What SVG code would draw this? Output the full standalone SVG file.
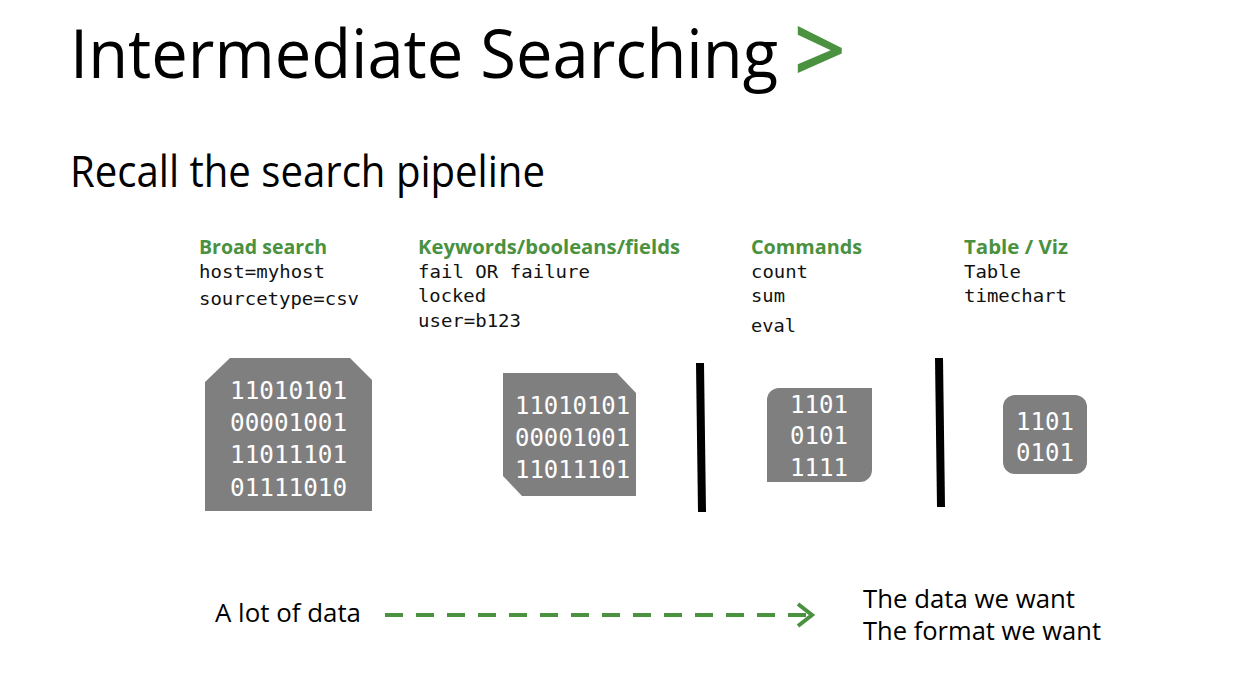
<svg xmlns="http://www.w3.org/2000/svg" width="1254" height="688" viewBox="0 0 1254 688">
  <style>
    .title { font-family: "Open Sans", "Noto Sans", sans-serif; fill: #000; }
    .head { font-family: "Open Sans", "Noto Sans", sans-serif; font-weight: bold; font-size: 19px; fill: #4a9140; }
    .code { font-family: "DejaVu Sans Mono", "Liberation Mono", monospace; font-size: 18px; fill: #111; }
    .bits { font-family: "DejaVu Sans Mono", "Liberation Mono", monospace; font-size: 24px; fill: #fff; }
    .block { fill: #7f7f7f; }
    .bar { fill: #000; }
    .plain { font-family: "Open Sans", "Noto Sans", sans-serif; font-size: 25px; fill: #000; }
    .flow { fill: none; stroke: #4a9140; stroke-width: 4; }
  </style>
  <rect width="1254" height="688" fill="#fff"/>

  <!-- heading -->
  <g id="heading">
    <text class="title" x="70" y="78" font-size="68" textLength="708" lengthAdjust="spacingAndGlyphs">Intermediate Searching</text>
    <text x="846" y="83" text-anchor="end" font-family="Open Sans, Noto Sans, sans-serif" font-size="92" font-weight="600" fill="#4a9140">&gt;</text>
    <text class="title" x="70" y="187" font-size="44" textLength="475" lengthAdjust="spacingAndGlyphs">Recall the search pipeline</text>
  </g>

  <!-- stage: broad search -->
  <g id="stage-broad">
    <text class="head" x="199" y="254" textLength="128" lengthAdjust="spacingAndGlyphs">Broad search</text>
    <text class="code" x="199" y="278" textLength="126" lengthAdjust="spacingAndGlyphs">host=myhost</text>
    <text class="code" x="199" y="305" textLength="160" lengthAdjust="spacingAndGlyphs">sourcetype=csv</text>
    <polygon class="block" points="230,358 350,358 372,380 372,511 205,511 205,382"/>
    <text class="bits" x="230" y="399" textLength="117" lengthAdjust="spacingAndGlyphs">11010101</text>
    <text class="bits" x="230" y="431" textLength="117" lengthAdjust="spacingAndGlyphs">00001001</text>
    <text class="bits" x="230" y="463" textLength="117" lengthAdjust="spacingAndGlyphs">11011101</text>
    <text class="bits" x="230" y="496" textLength="117" lengthAdjust="spacingAndGlyphs">01111010</text>
  </g>

  <!-- stage: keywords / booleans / fields -->
  <g id="stage-keywords">
    <text class="head" x="418" y="254" textLength="262" lengthAdjust="spacingAndGlyphs">Keywords/booleans/fields</text>
    <text class="code" x="418" y="278" textLength="172" lengthAdjust="spacingAndGlyphs">fail OR failure</text>
    <text class="code" x="418" y="302" textLength="68" lengthAdjust="spacingAndGlyphs">locked</text>
    <text class="code" x="418" y="327" textLength="103" lengthAdjust="spacingAndGlyphs">user=b123</text>
    <polygon class="block" points="503,373 617,373 636,393 636,496 522,496 503,476"/>
    <text class="bits" x="515" y="414" textLength="115" lengthAdjust="spacingAndGlyphs">11010101</text>
    <text class="bits" x="515" y="446" textLength="115" lengthAdjust="spacingAndGlyphs">00001001</text>
    <text class="bits" x="515" y="478" textLength="115" lengthAdjust="spacingAndGlyphs">11011101</text>
  </g>

  <!-- stage: commands -->
  <g id="stage-commands">
    <text class="head" x="751" y="254" textLength="111" lengthAdjust="spacingAndGlyphs">Commands</text>
    <text class="code" x="751" y="278" textLength="57" lengthAdjust="spacingAndGlyphs">count</text>
    <text class="code" x="751" y="302" textLength="34" lengthAdjust="spacingAndGlyphs">sum</text>
    <text class="code" x="751" y="332" textLength="45" lengthAdjust="spacingAndGlyphs">eval</text>
    <path class="block" d="M779,388 H872 V470 A12,12 0 0 1 860,482 H767 V400 A12,12 0 0 1 779,388 Z"/>
    <text class="bits" x="819" y="413" text-anchor="middle">1101</text>
    <text class="bits" x="819" y="444" text-anchor="middle">0101</text>
    <text class="bits" x="819" y="476" text-anchor="middle">1111</text>
  </g>

  <!-- stage: table / viz -->
  <g id="stage-output">
    <text class="head" x="964" y="254" textLength="104" lengthAdjust="spacingAndGlyphs">Table / Viz</text>
    <text class="code" x="964" y="278" textLength="57" lengthAdjust="spacingAndGlyphs">Table</text>
    <text class="code" x="964" y="302" textLength="103" lengthAdjust="spacingAndGlyphs">timechart</text>
    <rect class="block" x="1003" y="395" width="84" height="79" rx="12" ry="12"/>
    <text class="bits" x="1045" y="430" text-anchor="middle">1101</text>
    <text class="bits" x="1045" y="461" text-anchor="middle">0101</text>
  </g>

  <!-- pipe separators -->
  <g id="separators">
    <polygon class="bar" points="696,363 704,363 706,512 698,512"/>
    <polygon class="bar" points="935,358 943,358 945,507 937,507"/>
  </g>

  <!-- connectors -->
  <g id="connectors">
    <line class="flow" x1="385" y1="615" x2="814" y2="615" stroke-dasharray="18,13"/>
    <path d="M798,604 L812,615 L798,626" class="flow" stroke-width="5" stroke-linejoin="miter"/>
  </g>

  <!-- bottom labels -->
  <g id="label-source">
    <text class="plain" x="215" y="622" textLength="146" lengthAdjust="spacingAndGlyphs">A lot of data</text>
  </g>
  <g id="label-result">
    <text class="plain" x="863" y="608" textLength="212" lengthAdjust="spacingAndGlyphs">The data we want</text>
    <text class="plain" x="863" y="640" textLength="238" lengthAdjust="spacingAndGlyphs">The format we want</text>
  </g>
</svg>
